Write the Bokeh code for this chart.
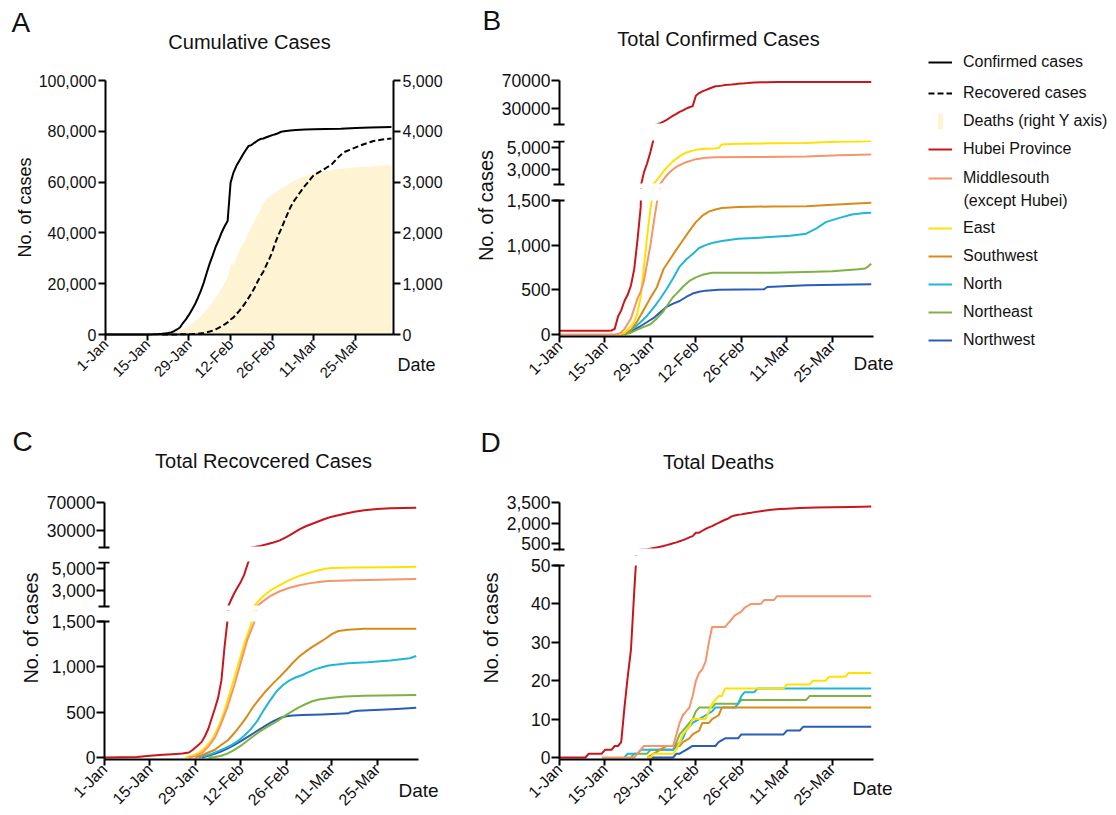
import math
from bokeh.plotting import figure
from bokeh.models import (Range1d, LinearAxis, FixedTicker, NumeralTickFormatter,
                          Label, Legend, LegendItem, BoxAnnotation)
from bokeh.layouts import row, column
from bokeh.embed import file_html
from bokeh.resources import INLINE

FONT = "Liberation Sans"
TXT = "#111111"

# ---------------- data (day 0 = 1-Jan) ----------------
tick_days = [0, 14, 28, 42, 56, 70, 84]
tick_labels = ["1-Jan", "15-Jan", "29-Jan", "12-Feb", "26-Feb", "11-Mar", "25-Mar"]
last_day = 96.7

region_labels = ["Hubei Province", "Middlesouth", "East", "Southwest", "North", "Northeast", "Northwest"]
region_colors = ["#C8161D", "#F4956B", "#FFE100", "#D98B19", "#21B6D7", "#7CB342", "#2B5CB8"]
deaths_fill = "#FEF3D3"

# Panel A: national totals
national_confirmed = [(0, 27), (15, 45), (16, 62), (17, 121), (18, 198), (19, 291), (20, 440), (21, 571),
    (22, 830), (23, 1287), (24, 1975), (25, 2744), (26, 4515), (27, 5974), (28, 7711), (29, 9692),
    (30, 11791), (31, 14380), (32, 17205), (33, 20438), (34, 24324), (35, 28018), (36, 31161),
    (37, 34546), (38, 37198), (39, 40171), (40, 42638), (41, 44653), (42, 59804), (43, 63851),
    (44, 66492), (45, 68500), (46, 70548), (47, 72436), (48, 74185), (49, 74576), (50, 75465),
    (51, 76288), (52, 76936), (53, 77150), (54, 77658), (55, 78064), (56, 78497), (57, 78824),
    (58, 79251), (59, 79824), (60, 80026), (62, 80270), (64, 80552), (67, 80695), (70, 80793),
    (74, 80860), (79, 80967), (84, 81285), (89, 81470), (96, 81740)]
national_recovered = [(19, 0), (21, 28), (24, 49), (27, 103), (28, 124), (29, 171), (30, 243), (31, 328),
    (32, 475), (33, 632), (34, 892), (35, 1153), (36, 1540), (37, 2050), (38, 2649), (39, 3281),
    (40, 3996), (41, 4740), (42, 5911), (43, 6723), (44, 8096), (45, 9419), (46, 10844), (47, 12552),
    (48, 14376), (49, 16155), (50, 18264), (51, 20659), (52, 22888), (53, 24734), (54, 27323),
    (55, 29745), (56, 32495), (57, 36117), (58, 39002), (59, 41625), (60, 44462), (61, 47204),
    (62, 49856), (63, 52045), (64, 53726), (65, 55404), (66, 57065), (67, 58600), (68, 59897),
    (69, 61475), (70, 62793), (72, 64111), (74, 65541), (76, 67017), (78, 69614), (80, 71740),
    (82, 72703), (84, 73650), (86, 74588), (88, 75448), (90, 76206), (93, 76751), (96, 77167)]
national_deaths = [(0, 0), (9, 0), (10, 1), (15, 1), (16, 2), (17, 3), (18, 3), (19, 6), (20, 9), (21, 17),
    (22, 25), (23, 41), (24, 56), (25, 80), (26, 106), (27, 132), (28, 170), (29, 213), (30, 259),
    (31, 304), (32, 361), (33, 425), (34, 490), (35, 563), (36, 636), (37, 722), (38, 811), (39, 908),
    (40, 1016), (41, 1113), (42, 1367), (43, 1380), (44, 1523), (45, 1665), (46, 1770), (47, 1868),
    (48, 2004), (49, 2118), (50, 2236), (51, 2345), (52, 2442), (53, 2592), (54, 2663), (55, 2715),
    (56, 2744), (57, 2788), (58, 2835), (59, 2870), (60, 2912), (61, 2943), (62, 2981), (63, 3012),
    (64, 3042), (65, 3070), (66, 3097), (67, 3119), (68, 3136), (69, 3158), (70, 3169), (72, 3189),
    (74, 3213), (76, 3237), (78, 3253), (80, 3270), (82, 3277), (84, 3287), (86, 3295), (88, 3300),
    (90, 3312), (93, 3326), (96, 3331)]

# Panel B: confirmed by region
hubei_confirmed = [(0, 41), (15, 41), (16, 45), (17, 62), (18, 198), (19, 270), (20, 375), (21, 444),
    (22, 549), (23, 729), (24, 1052), (25, 1423), (26, 2714), (27, 3554), (28, 4586), (29, 5806),
    (30, 7153), (31, 9074), (32, 11177), (33, 13522), (34, 16678), (35, 19665), (36, 22112),
    (37, 24953), (38, 27100), (39, 29631), (40, 31728), (41, 33366), (42, 48206), (43, 51986),
    (44, 54406), (45, 56249), (46, 58182), (47, 59989), (48, 61682), (49, 62031), (50, 62662),
    (51, 63454), (52, 64084), (53, 64287), (54, 64786), (55, 65187), (56, 65596), (57, 65914),
    (58, 66337), (59, 66907), (60, 67103), (62, 67332), (64, 67592), (67, 67707), (70, 67773),
    (75, 67798), (80, 67800), (96, 67803)]
middlesouth_confirmed = [(0, 0), (17, 0), (18, 5), (19, 25), (20, 60), (21, 120), (22, 180), (23, 290),
    (24, 400), (25, 480), (26, 600), (27, 800), (28, 1000), (29, 1250), (30, 1480), (31, 1650),
    (32, 2050), (33, 2430), (34, 2750), (35, 3000), (36, 3220), (37, 3380), (39, 3650), (42, 3930),
    (45, 4050), (48, 4100), (60, 4130), (76, 4163), (86, 4285), (96, 4350)]
east_confirmed = [(18, 0), (20, 20), (22, 90), (23, 140), (24, 240), (25, 420), (26, 760), (27, 1100),
    (28, 1400), (29, 1650), (30, 2000), (31, 2400), (32, 2780), (33, 3150), (34, 3450), (35, 3750),
    (37, 4200), (39, 4520), (41, 4710), (43, 4830), (45, 4880), (48, 4915), (49, 4950), (50, 5280),
    (53, 5330), (56, 5350), (65, 5380), (76, 5412), (81, 5480), (86, 5520), (90, 5540), (92, 5550),
    (94, 5570), (96, 5590)]
southwest_confirmed = [(18, 0), (20, 10), (22, 50), (24, 150), (26, 280), (28, 410), (30, 530), (32, 730),
    (34, 840), (36, 950), (38, 1055), (40, 1160), (42, 1258), (44, 1330), (46, 1375), (48, 1400),
    (50, 1416), (55, 1426), (65, 1433), (76, 1437), (84, 1452), (96, 1474)]
north_confirmed = [(19, 0), (21, 25), (23, 75), (25, 140), (27, 210), (29, 300), (31, 400), (33, 510),
    (35, 630), (37, 760), (39, 840), (41, 900), (43, 968), (45, 1000), (47, 1025), (50, 1046),
    (55, 1072), (60, 1080), (66, 1094), (71, 1105), (76, 1128), (79, 1184), (82, 1258), (86, 1303),
    (90, 1344), (94, 1359), (96, 1362)]
northeast_confirmed = [(20, 0), (22, 20), (24, 55), (26, 85), (28, 115), (30, 180), (32, 260), (34, 370),
    (35, 420), (36, 455), (38, 535), (40, 600), (42, 640), (44, 668), (47, 692), (65, 692), (76, 700),
    (84, 707), (92, 730), (94, 738), (95, 760), (96, 793)]
northwest_confirmed = [(19, 0), (21, 20), (23, 55), (25, 95), (27, 140), (29, 185), (31, 250), (33, 310),
    (35, 345), (37, 375), (39, 420), (41, 458), (43, 478), (45, 491), (49, 502), (63, 506), (64, 532),
    (76, 551), (86, 558), (96, 562)]

# Panel C: recovered by region
hubei_recovered = [(0, 0), (10, 5), (14, 18), (18, 30), (21, 37), (24, 45), (26, 55), (27, 80), (28, 110),
    (29, 140), (30, 175), (31, 240), (32, 320), (33, 430), (34, 540), (35, 660), (36, 850), (37, 1230),
    (38, 1550), (39, 2200), (40, 2800), (41, 3300), (42, 3800), (43, 4400), (44, 5300), (45, 6100),
    (46, 7000), (48, 8800), (50, 11000), (52, 13500), (54, 16500), (56, 21000), (58, 26500),
    (60, 32000), (62, 36500), (64, 40000), (66, 43500), (68, 47000), (70, 50000), (72, 52000),
    (74, 54000), (77, 57000), (80, 59000), (84, 60700), (88, 61800), (92, 62300), (96, 62600)]
middlesouth_recovered = [(26, 0), (28, 15), (30, 50), (32, 120), (34, 220), (36, 380), (38, 570), (40, 800),
    (42, 1050), (44, 1300), (46, 1480), (47, 1650), (49, 2100), (51, 2520), (54, 2950), (57, 3260),
    (60, 3480), (63, 3650), (66, 3780), (69, 3870), (77, 3930), (88, 3990), (96, 4040)]
east_recovered = [(25, 0), (27, 20), (29, 50), (31, 110), (33, 190), (35, 330), (37, 520), (39, 760),
    (41, 1000), (43, 1250), (45, 1450), (46, 1600), (47, 1950), (49, 2550), (51, 3000), (53, 3330),
    (56, 3800), (59, 4200), (62, 4500), (65, 4750), (68, 4950), (70, 5020), (77, 5060), (88, 5070),
    (96, 5120)]
southwest_recovered = [(28, 0), (30, 25), (32, 55), (34, 85), (36, 140), (38, 190), (40, 270), (42, 360),
    (44, 460), (46, 570), (48, 660), (50, 745), (52, 820), (54, 890), (56, 965), (58, 1045), (60, 1115),
    (62, 1170), (64, 1220), (66, 1265), (68, 1310), (70, 1360), (72, 1395), (75, 1410), (80, 1419),
    (96, 1420)]
north_recovered = [(29, 0), (31, 20), (33, 40), (35, 70), (37, 100), (39, 135), (41, 180), (43, 240),
    (45, 310), (47, 400), (49, 520), (51, 630), (53, 730), (55, 800), (57, 850), (59, 885), (61, 910),
    (63, 945), (65, 975), (67, 995), (69, 1014), (75, 1039), (81, 1050), (88, 1069), (92, 1087),
    (94, 1095), (96, 1120)]
northeast_recovered = [(32, 0), (34, 5), (36, 20), (38, 45), (40, 85), (42, 130), (44, 185), (46, 240),
    (48, 290), (50, 335), (52, 375), (54, 420), (56, 470), (58, 515), (60, 555), (62, 590), (64, 620),
    (66, 640), (70, 660), (74, 672), (80, 682), (96, 689)]
northwest_recovered = [(30, 0), (32, 20), (34, 40), (36, 68), (38, 100), (40, 138), (42, 180), (44, 225),
    (46, 270), (48, 315), (50, 360), (52, 400), (54, 435), (56, 455), (58, 463), (61, 468), (67, 475),
    (75, 487), (76, 505), (78, 516), (85, 527), (90, 535), (96, 549)]

# Panel D: deaths by region
hubei_deaths = [(0, 0), (8, 0), (9, 1), (13, 1), (14, 2), (16, 2), (17, 3), (18, 3), (19, 4), (20, 13),
    (21, 21), (22, 28), (23, 43), (24, 57), (25, 76), (26, 100), (27, 125), (28, 162), (29, 204),
    (30, 249), (31, 294), (32, 350), (33, 414), (34, 479), (35, 549), (36, 618), (37, 699), (38, 780),
    (39, 871), (40, 974), (41, 1068), (42, 1310), (43, 1318), (44, 1457), (45, 1596), (46, 1696),
    (47, 1789), (48, 1921), (49, 2029), (50, 2144), (51, 2250), (52, 2346), (53, 2495), (54, 2563),
    (55, 2615), (56, 2641), (57, 2682), (58, 2727), (59, 2761), (60, 2803), (62, 2870), (64, 2931),
    (66, 2986), (68, 3024), (70, 3056), (74, 3099), (79, 3139), (84, 3160), (90, 3177), (96, 3212)]
middlesouth_deaths = [(13, 0), (23, 0), (24, 1), (25, 2), (26, 3), (35, 3), (36, 6), (37, 9), (38, 11),
    (39, 12), (40, 13), (41, 16), (42, 20), (43, 22), (44, 23), (45, 25), (46, 30), (47, 34), (51, 34),
    (52, 35), (53, 36), (54, 37), (56, 38), (57, 39), (59, 40), (62, 40), (63, 41), (66, 41), (67, 42),
    (96, 42)]
east_deaths = [(27, 0), (28, 0), (29, 1), (35, 1), (36, 2), (37, 4), (38, 6), (39, 7), (40, 8), (41, 10),
    (45, 10), (46, 12), (47, 14), (48, 15), (49, 16), (50, 16), (51, 18), (69, 18), (70, 19), (77, 19),
    (78, 20), (82, 20), (83, 21), (88, 21), (89, 22), (96, 22)]
southwest_deaths = [(27, 0), (29, 1), (31, 2), (33, 3), (37, 3), (38, 4), (40, 5), (41, 6), (43, 7),
    (44, 9), (46, 9), (47, 10), (49, 11), (50, 13), (96, 13)]
north_deaths = [(20, 0), (21, 1), (24, 1), (25, 2), (35, 2), (36, 3), (37, 4), (38, 5), (39, 7), (40, 8),
    (41, 9), (43, 10), (45, 11), (47, 12), (48, 13), (54, 13), (55, 14), (56, 16), (57, 17), (60, 17),
    (61, 18), (96, 18)]
northeast_deaths = [(22, 0), (23, 1), (27, 1), (28, 2), (35, 2), (36, 4), (37, 6), (38, 7), (39, 8),
    (40, 9), (41, 10), (42, 12), (43, 13), (47, 13), (48, 14), (55, 14), (56, 15), (76, 15), (77, 16),
    (96, 16)]
northwest_deaths = [(27, 0), (35, 0), (36, 1), (37, 1), (39, 2), (41, 3), (48, 3), (49, 4), (51, 5),
    (55, 5), (56, 6), (69, 6), (70, 7), (74, 7), (75, 8), (96, 8)]

confirmed_series = [hubei_confirmed, middlesouth_confirmed, east_confirmed, southwest_confirmed,
                    north_confirmed, northeast_confirmed, northwest_confirmed]
recovered_series = [hubei_recovered, middlesouth_recovered, east_recovered, southwest_recovered,
                    north_recovered, northeast_recovered, northwest_recovered]
deaths_series = [hubei_deaths, middlesouth_deaths, east_deaths, southwest_deaths,
                 north_deaths, northeast_deaths, northwest_deaths]


def split(pairs):
    return [a for a, _ in pairs], [b for _, b in pairs]


# ---------------- layout helpers ----------------
def lin(va, pa, vb, pb, p):
    return va + (p - pa) * (vb - va) / (pb - pa)


def x_range_for(px0, px1, frame_l, frame_r):
    # day 0 drawn at page pixel px0, last_day at px1
    return Range1d(lin(0, px0, last_day, px1, frame_l), lin(0, px0, last_day, px1, frame_r))


def y_range_for(va, pa, vb, pb, frame_t, frame_b):
    return Range1d(lin(va, pa, vb, pb, frame_b), lin(va, pa, vb, pb, frame_t))


def new_fig(w, h, xr, yr, top=0):
    p = figure(width=w, height=h, x_range=xr, y_range=yr,
               x_axis_type=None, y_axis_type=None,
               output_backend="svg", toolbar_location=None,
               min_border_left=0, min_border_right=0,
               min_border_top=top, min_border_bottom=0)
    p.outline_line_color = None
    p.xgrid.visible = False
    p.ygrid.visible = False
    return p


def style_y(ax, size, out=8, standoff=1):
    ax.axis_line_width = 2
    ax.axis_line_color = "black"
    ax.major_tick_line_width = 2
    ax.major_tick_line_color = "black"
    ax.major_tick_in = 0
    ax.major_tick_out = out
    ax.minor_tick_line_width = 2
    ax.minor_tick_line_color = "black"
    ax.minor_tick_in = 5
    ax.minor_tick_out = 6
    ax.major_label_text_font = FONT
    ax.major_label_text_font_size = size
    ax.major_label_text_color = TXT
    ax.major_label_standoff = standoff


def add_xaxis(p, level, size):
    ax = LinearAxis(fixed_location=level, bounds=(0, last_day))
    ax.ticker = FixedTicker(ticks=tick_days)
    ax.major_label_overrides = {d: s for d, s in zip(tick_days, tick_labels)}
    ax.major_label_orientation = math.pi / 4
    ax.axis_line_width = 2
    ax.axis_line_color = "black"
    ax.major_tick_line_width = 2
    ax.major_tick_line_color = "black"
    ax.major_tick_in = 0
    ax.major_tick_out = 6
    ax.major_label_text_font = FONT
    ax.major_label_text_font_size = size
    ax.major_label_text_color = TXT
    ax.major_label_standoff = 1
    ax.level = "overlay"
    p.add_layout(ax, "below")


def text(p, x, y, s, size, angle=0.0, align="left"):
    p.add_layout(Label(x=x, y=y, x_units="screen", y_units="screen", text=s,
                       text_font=FONT, text_font_size=size, text_color=TXT,
                       angle=angle, text_align=align, text_baseline="middle"))


def draw_regions(p, series):
    for pairs, color in reversed(list(zip(series, region_colors))):
        xs, ys = split(pairs)
        p.line(xs, ys, line_color=color, line_width=2, line_join="round")


def segment(w, h, top, xr, mapping, frame_t, frame_b, major, caps, fmt, series, bounds,
            mask_below_px=None, mask_above_px=None):
    va, pa, vb, pb = mapping
    p = new_fig(w, h, xr, y_range_for(va, pa, vb, pb, frame_t, frame_b), top=top)
    draw_regions(p, series)
    # white masks hide the parts of the lines that belong to a neighbouring axis segment (axis break)
    if mask_above_px is not None:
        p.add_layout(BoxAnnotation(left=0, bottom=lin(va, pa, vb, pb, mask_above_px),
                                   fill_color="white", fill_alpha=1, line_alpha=0))
    if mask_below_px is not None:
        p.add_layout(BoxAnnotation(left=0, top=lin(va, pa, vb, pb, mask_below_px),
                                   fill_color="white", fill_alpha=1, line_alpha=0))
    ax = LinearAxis(fixed_location=0, bounds=bounds)
    ax.ticker = FixedTicker(ticks=major, minor_ticks=caps)
    ax.formatter = NumeralTickFormatter(format=fmt)
    style_y(ax, "17.5px")
    ax.level = "overlay"   # axis (with its break caps) drawn above the masks
    p.add_layout(ax, "left")
    return p


# ---------------- Panel A (one figure, tile 0..450 x 0..420) ----------------
FA = new_fig(450, 420, x_range_for(105, 393, 0, 450), y_range_for(0, 334, 100000, 80, 0, 420))
FA.extra_y_ranges = {"deaths": y_range_for(0, 334, 5000, 80, 0, 420)}
d_x, d_y = split(national_deaths)
FA.varea(x=d_x, y1=0, y2=d_y, fill_color=deaths_fill, y_range_name="deaths")
c_x, c_y = split(national_confirmed)
FA.line(c_x, c_y, line_color="black", line_width=2, line_join="round")
r_x, r_y = split(national_recovered)
FA.line(r_x, r_y, line_color="black", line_width=2, line_dash="6 3")
axl = LinearAxis(fixed_location=0, bounds=(0, 100000))
axl.ticker = FixedTicker(ticks=[0, 20000, 40000, 60000, 80000, 100000])
axl.formatter = NumeralTickFormatter(format="0,0")
style_y(axl, "16px", out=7, standoff=2)
FA.add_layout(axl, "left")
axr = LinearAxis(y_range_name="deaths", fixed_location=last_day, bounds=(0, 5000))
axr.ticker = FixedTicker(ticks=[0, 1000, 2000, 3000, 4000, 5000])
axr.formatter = NumeralTickFormatter(format="0,0")
style_y(axr, "16px", out=7, standoff=2)
FA.add_layout(axr, "right")
add_xaxis(FA, 0, "15px")
text(FA, 11, 397.8, "A", "28px")
text(FA, 249, 379, "Cumulative Cases", "20px", align="center")
text(FA, 24, 213, "No. of cases", "18px", angle=math.pi / 2, align="center")
text(FA, 397, 55.3, "Date", "18px")

# ---------------- Panel C (tiles x 46..450) ----------------
stripC = new_fig(450, 70, Range1d(0, 1), Range1d(0, 1))
text(stripC, 12, 48.8, "C", "28px")
text(stripC, 263, 30, "Total Recovcered Cases", "20px", align="center")

xC = x_range_for(104, 418, 46, 450)
C_top = segment(404, 61, 0, xC, (6500, 547, 70000, 502), 490, 551,
                [30000, 70000], [6500], "0", recovered_series, bounds=(6500, 70000), mask_below_px=546)
C_mid = segment(404, 59, 10, xC, (1600, 606, 5500, 562), 561, 610,
                [3000, 5000], [1600, 5500], "0,0", recovered_series, bounds=(1600, 5500), mask_below_px=605)
C_bot = segment(404, 205, 0, xC, (0, 757, 1500, 621), 610, 815,
                [0, 500, 1000, 1500], [1500], "0,0", recovered_series, bounds=(-24, 1500), mask_above_px=621)
add_xaxis(C_bot, -24, "16px")
text(C_bot, 352, 24.6, "Date", "19px")

gC = new_fig(46, 325, Range1d(0, 1), Range1d(0, 1))
text(gC, 30, 187.5, "No. of cases", "20px", angle=math.pi / 2, align="center")

# ---------------- Panels B and D (tiles x 500..900) ----------------
stripB = new_fig(450, 70, Range1d(0, 1), Range1d(0, 1))
text(stripB, 32, 49.8, "B", "28px")
text(stripB, 268, 32, "Total Confirmed Cases", "20px", align="center")

xB = x_range_for(559, 873, 500, 900)
B_top = segment(400, 58, 0, xB, (7000, 124, 70000, 80), 70, 128,
                [30000, 70000], [7000], "0", confirmed_series, bounds=(7000, 70000), mask_below_px=123)
B_mid = segment(400, 60, 12, xB, (1600, 184, 5550, 141), 140, 188,
                [3000, 5000], [1600, 5550], "0,0", confirmed_series, bounds=(1600, 5550), mask_below_px=183)
B_bot = segment(400, 232, 0, xB, (0, 334, 1500, 200), 188, 420,
                [0, 500, 1000, 1500], [1500], "0,0", confirmed_series, bounds=(-24, 1500), mask_above_px=200)
add_xaxis(B_bot, -24, "16px")
text(B_bot, 353, 56.6, "Date", "19px")

stripD = new_fig(400, 70, Range1d(0, 1), Range1d(0, 1))
text(stripD, 218, 29, "Total Deaths", "20px", align="center")

D_top = segment(400, 65, 0, xB, (100, 549, 3500, 502), 490, 555,
                [500, 2000, 3500], [100], "0,0", deaths_series, bounds=(100, 3500), mask_below_px=548)
D_bot = segment(400, 260, 0, xB, (0, 757, 50, 565), 555, 815,
                [0, 10, 20, 30, 40, 50], [50], "0,0", deaths_series, bounds=(-0.55, 50), mask_above_px=565)
add_xaxis(D_bot, -0.55, "16px")
text(D_bot, 352, 26.6, "Date", "19px")

g2 = new_fig(50, 745, Range1d(0, 1), Range1d(0, 1))
text(g2, 35.5, 610, "No. of cases", "20px", angle=math.pi / 2, align="center")
text(g2, 30, 373.3, "D", "28px")
text(g2, 40, 187.5, "No. of cases", "20px", angle=math.pi / 2, align="center")

# ---------------- legend ----------------
LG = new_fig(216, 420, Range1d(0, 1), Range1d(0, 1))


def dummy_line(**kw):
    return LG.line(x=[-5, -4], y=[-5, -4], **kw)


def add_legend(entries, loc, glyph_w, standoff, spacing):
    leg = Legend(items=[LegendItem(label=l, renderers=[r]) for l, r in entries],
                 location=loc, orientation="vertical", margin=0, padding=0, spacing=spacing,
                 glyph_width=glyph_w, glyph_height=20, label_height=20, label_standoff=standoff,
                 label_text_font=FONT, label_text_font_size="16px", label_text_color=TXT,
                 border_line_color=None, background_fill_alpha=0)
    LG.add_layout(leg)


add_legend([("Confirmed cases", dummy_line(line_color="black", line_width=2)),
            ("Recovered cases", dummy_line(line_color="black", line_width=2, line_dash="6 3"))],
           (28, 317.3), 24, 11, 11)
bar_r = LG.vbar(x=[-5], top=[-5], width=1, fill_color=deaths_fill, line_color=None)
add_legend([("Deaths (right Y axis)", bar_r)], (37, 289), 6, 20, 0)
add_legend([(region_labels[0], dummy_line(line_color=region_colors[0], line_width=2)),
            (region_labels[1], dummy_line(line_color=region_colors[1], line_width=2))],
           (28, 231.7), 24, 11, 9)
text(LG, 63, 220, "(except Hubei)", "16px")
add_legend([(region_labels[i], dummy_line(line_color=region_colors[i], line_width=2)) for i in range(2, 7)],
           (28, 70.3), 24, 11, 8)

# ---------------- layout ----------------
col1 = column(FA, stripC, row(gC, column(C_top, C_mid, C_bot)))
col2 = column(stripB, row(g2, column(B_top, B_mid, B_bot, stripD, D_top, D_bot)))
root = row(col1, col2, LG)

open("out.html", "w").write(file_html(root, INLINE, "COVID-19 cases"))
